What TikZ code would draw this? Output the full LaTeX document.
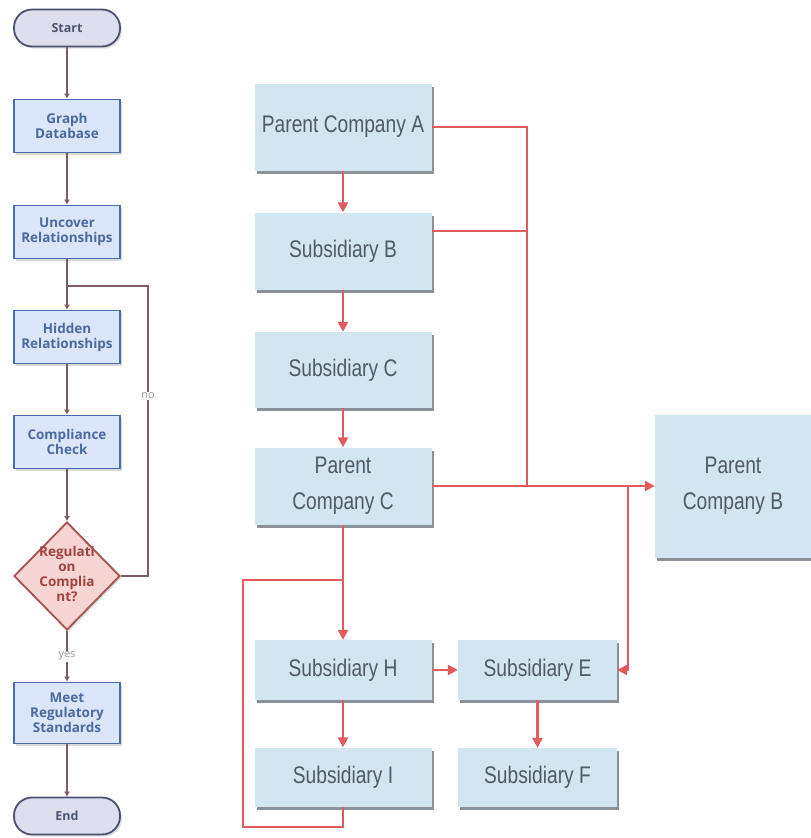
\documentclass[tikz,border=0pt]{standalone}
\usepackage{fontspec}
\setmainfont{Open Sans}
\newfontfamily\narrowfont[FakeStretch=0.8]{Liberation Sans}
\usetikzlibrary{arrows.meta,shapes.geometric,shadows,calc}
\definecolor{lfill}{HTML}{DBE6FA}
\definecolor{ldraw}{HTML}{4A6DAA}
\definecolor{ltext}{HTML}{4A6AA0}
\definecolor{tfill}{HTML}{DDDFEE}
\definecolor{tdraw}{HTML}{4B5170}
\definecolor{ttext}{HTML}{4B5573}
\definecolor{dfill}{HTML}{F6D5D2}
\definecolor{ddraw}{HTML}{A5524F}
\definecolor{dtext}{HTML}{A0443F}
\definecolor{lline}{HTML}{7D5C68}
\definecolor{rfill}{HTML}{D2E6F1}
\definecolor{rtext}{HTML}{4F5B66}
\definecolor{rshadow}{HTML}{6D7680}
\definecolor{rred}{HTML}{E05A5E}
\tikzset{
  lbox/.style={draw=ldraw, line width=1.8pt, fill=lfill, minimum width=106pt, minimum height=53pt,
    inner sep=0pt, align=center, text=ltext, font=\bfseries\fontsize{13.5}{15}\selectfont,
    drop shadow={shadow xshift=2pt, shadow yshift=-2pt, fill=gray!60}},
  term/.style={draw=tdraw, line width=1.8pt, fill=tfill, minimum width=106pt, minimum height=37pt,
    rounded corners=18pt, inner sep=0pt, text=ttext, font=\bfseries\fontsize{12.5}{15}\selectfont,
    drop shadow={shadow xshift=2pt, shadow yshift=-2pt, fill=gray!50}},
  decis/.style={diamond, draw=ddraw, line width=1.8pt, fill=dfill, minimum width=106pt, minimum height=108pt,
    inner sep=0pt, text=dtext, font=\bfseries\fontsize{13.5}{15}\selectfont,
    drop shadow={shadow xshift=2pt, shadow yshift=-2pt, fill=gray!50}},
  lconn/.style={draw=lline, line width=1.8pt, -{Latex[length=5pt,width=6pt]}},
  lplain/.style={draw=lline, line width=1.8pt},
  lbl/.style={fill=white, text=gray!80, inner sep=1pt, font=\fontsize{11}{13}\selectfont},
  rbox/.style={fill=rfill, minimum width=177pt, inner sep=0pt, align=center, text=rtext,
    font=\narrowfont\fontsize{24}{36}\selectfont,
    drop shadow={shadow xshift=2pt, shadow yshift=-3pt, fill=rshadow, opacity=0.8}},
  rconn/.style={draw=rred, line width=2.6pt, -{Triangle[length=10pt,width=10pt]}},
  rplain/.style={draw=rred, line width=2.6pt},
}
\begin{document}
\begin{tikzpicture}[x=1pt,y=-1pt]
\useasboundingbox[fill=white] (0,0) rectangle (811,838);
% left flowchart
\node[term] (start) at (67,28) {Start};
\node[lbox] (gd) at (67,126) {Graph\\Database};
\node[lbox] (ur) at (67,232) {Uncover\\Relationships};
\node[lbox] (hr) at (67,337) {Hidden\\Relationships};
\node[lbox] (cc) at (67,442) {Compliance\\Check};
\node[decis] (rc) at (67,576) {\makebox[0pt]{\begin{tabular}{@{}c@{}}Regulati\\on\\Complia\\nt?\end{tabular}}};
\node[lbox, minimum height=61pt] (mrs) at (67,713) {Meet\\Regulatory\\Standards};
\node[term] (end) at (67,816) {End};
\coordinate (nj) at (67,286);
\coordinate (nc) at (148,286);
\draw[lconn] (start) -- (gd);
\draw[lconn] (gd) -- (ur);
\draw[lconn] (ur) -- (hr);
\draw[lconn] (hr) -- (cc);
\draw[lconn] (cc) -- (rc);
\draw[lplain] (rc.east) -| (nc) -- (nj);
\node[lbl] (no) at (148,396) {no};
\draw[lconn] (rc) -- node[lbl] (yes) {yes} (mrs);
\draw[lconn] (mrs) -- (end);
% right chart
\node[rbox, minimum height=87pt] (pa) at (343,127) {Parent Company A};
\node[rbox, minimum height=77pt] (sb) at (343,251) {Subsidiary B};
\node[rbox, minimum height=76pt] (sc) at (343,370) {Subsidiary C};
\node[rbox, minimum height=77pt] (pc) at (343,486) {Parent\\Company C};
\node[rbox, minimum height=60pt] (sh) at (343,670) {Subsidiary H};
\node[rbox, minimum height=59pt] (si) at (343,777) {Subsidiary I};
\node[rbox, minimum width=159pt, minimum height=60pt] (se) at (537.5,670) {Subsidiary E};
\node[rbox, minimum width=159pt, minimum height=59pt] (sf) at (537.5,777.5) {Subsidiary F};
\node[rbox, minimum width=156pt, minimum height=143pt] (pb) at (733,486) {Parent\\Company B};
\coordinate (j1) at (527,486);
\coordinate (j2) at (628,486);
\coordinate (ja) at (527,127);
\coordinate (jb) at (527,231);
\coordinate (l1) at (343,580);
\coordinate (l2) at (243,580);
\coordinate (l3) at (243,827);
\coordinate (l4) at (343,827);
\draw[rconn] (pa) -- (sb);
\draw[rconn] (sb) -- (sc);
\draw[rconn] (sc) -- (pc);
\draw[rplain] (pa.east) -- (ja) -- (j1);
\draw[rplain] ($(sb.east)+(0,-20)$) -- (jb);
\draw[rconn] (pc.east) -- (pb.west);
\draw[rconn] (j2) |- (se.east);
\draw[rconn] (pc) -- (sh);
\draw[rplain] (l1) -- (l2) -- (l3) -- (l4) -- (si.south);
\draw[rconn] (sh) -- (se);
\draw[rconn] (sh) -- (si);
\draw[rconn] (se) -- (sf);
\end{tikzpicture}
\end{document}
